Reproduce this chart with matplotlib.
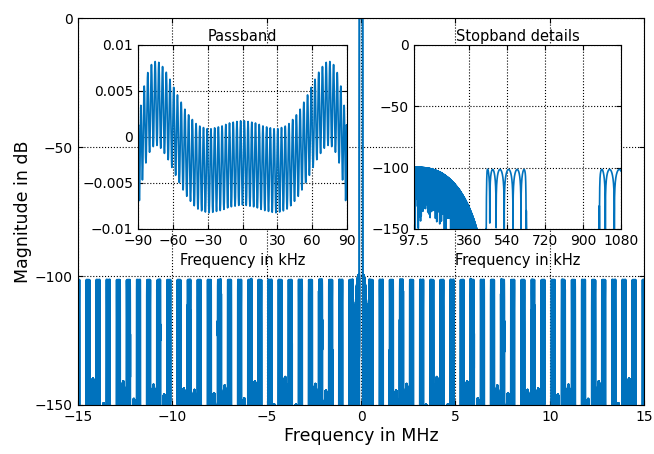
import numpy as np
import matplotlib.pyplot as plt

# filter spec (all frequencies in kHz)
fs = 30000.0            # output rate, plot spans +-fs/2
L = 56                  # interpolation factor of the model filter
f_pass = 90.0
f_stop = 97.5
stop_db = 100.0
ripple_db = 0.0043
NG = 341                # model filter length (at fs/L)
NH = 375                # masking filter length (at fs)
gap_weight = 2e-4       # relative weight of the don't-care gaps in the masking filter

main_xticks = [-15, -10, -5, 0, 5, 10, 15]
main_yticks = [-150, -100, -50, 0]
pb_xticks = [-90, -60, -30, 0, 30, 60, 90]
pb_yticks = [-0.01, -0.005, 0, 0.005, 0.01]
sb_xticks = [97.5, 360, 540, 720, 900, 1080]
sb_xlabels = ['97.5', '360', '540', '720', '900', '1080']
sb_yticks = [-150, -100, -50, 0]

blue = '#0072BD'
plt.rcParams['font.family'] = ['DejaVu Sans']


def lawson(f, rate, M, d, W, iters=80):
    C = np.cos(2 * np.pi * np.outer(f / rate, np.arange(M + 1)))
    v = W ** 2
    v = v / v.sum()
    for _ in range(iters):
        sw = np.sqrt(v)
        c = np.linalg.lstsq(C * sw[:, None], d * sw, rcond=None)[0]
        e = np.abs(W * (C @ c - d))
        v = v * e
        v = v / v.sum()
    h = np.zeros(2 * M + 1)
    h[M] = c[0]
    h[M + 1:] = c[1:] / 2
    h[:M] = c[1:][::-1] / 2
    return h


dp = ripple_db / 8.686
ds = 10 ** (-stop_db / 20)

# model filter G, designed at rate fs/L
P = fs / L
fg = np.concatenate([np.linspace(0, f_pass, 600), np.linspace(f_stop, P / 2, 1200)])
dg = (fg <= f_pass).astype(float)
wg = np.where(fg <= f_pass, 1.0, dp / ds)
g = lawson(fg, P, (NG - 1) // 2, dg, wg)

# masking filter H2 at fs: stopbands around every image k*P
fh = [np.linspace(0, f_pass, 100)]
wh = [np.ones(100)]
dh = [np.ones(100)]
k = 1
while k * P - f_stop < fs / 2:
    sb = np.linspace(k * P - f_stop, min(k * P + f_stop, fs / 2), 60)
    fh.append(sb); wh.append(np.full(60, dp / ds)); dh.append(np.zeros(60))
    gap_end = (k + 1) * P - f_stop
    if k * P + f_stop < fs / 2:
        gp = np.linspace(k * P + f_stop, min(gap_end, fs / 2), 30)
        fh.append(gp); wh.append(np.full(30, dp / ds * gap_weight)); dh.append(np.zeros(30))
    k += 1
fh = np.concatenate(fh); wh = np.concatenate(wh); dh = np.concatenate(dh)
h2 = lawson(fh, fs, (NH - 1) // 2, dh, wh)

# cascade response
nfft = 2 ** 18
gu = np.zeros((NG - 1) * L + 1)
gu[::L] = g
H = np.fft.fft(gu, nfft) * np.fft.fft(h2, nfft)
freq = np.fft.fftshift(np.fft.fftfreq(nfft, 1 / fs))
mag = np.fft.fftshift(20 * np.log10(np.maximum(np.abs(H), 1e-12)))

fig = plt.figure(figsize=(6.54, 4.54), dpi=100)
ax = fig.add_axes([0.119, 0.108, 0.866, 0.852])
ax.plot(freq / 1000, mag, color=blue, lw=1.5)
ax.set_xlim(-15, 15)
ax.set_ylim(-150, 0)
ax.set_xticks(main_xticks)
ax.set_yticks(main_yticks)
ax.set_xlabel('Frequency in MHz', fontsize=12.5, labelpad=2)
ax.set_ylabel('Magnitude in dB', fontsize=12.5, labelpad=2)
ax.grid(True, ls=':', color='k', lw=0.8)
ax.tick_params(direction='in', top=True, right=True, labelsize=10)

ax1 = fig.add_axes([0.211, 0.4956, 0.3196, 0.4053])
sel = (freq >= -f_pass) & (freq <= f_pass)
ax1.plot(freq[sel], mag[sel], color=blue, lw=1.2)
ax1.set_xlim(-90, 90)
ax1.set_ylim(-0.01, 0.01)
ax1.set_xticks(pb_xticks)
ax1.set_yticks(pb_yticks)
ax1.set_yticklabels(['\u22120.01', '\u22120.005', '0', '0.005', '0.01'])
ax1.set_title('Passband', fontsize=10.5, pad=3)
ax1.set_xlabel('Frequency in kHz', fontsize=10.5, labelpad=4)
ax1.grid(True, ls=':', color='k', lw=0.8)
ax1.tick_params(direction='in', top=True, right=True, labelsize=10)

ax2 = fig.add_axes([0.633, 0.4956, 0.3165, 0.4053])
sel = (freq >= 90) & (freq <= 1090)
ax2.plot(freq[sel], mag[sel], color=blue, lw=1.2)
ax2.set_xlim(97.5, 1080)
ax2.set_ylim(-150, 0)
ax2.set_xticks(sb_xticks)
ax2.set_xticklabels(sb_xlabels)
ax2.set_yticks(sb_yticks)
ax2.set_title('Stopband details', fontsize=10.5, pad=3)
ax2.set_xlabel('Frequency in kHz', fontsize=10.5, labelpad=4)
ax2.grid(True, ls=':', color='k', lw=0.8)
ax2.tick_params(direction='in', top=True, right=True, labelsize=10)

fig.savefig('out.png', dpi=100)
